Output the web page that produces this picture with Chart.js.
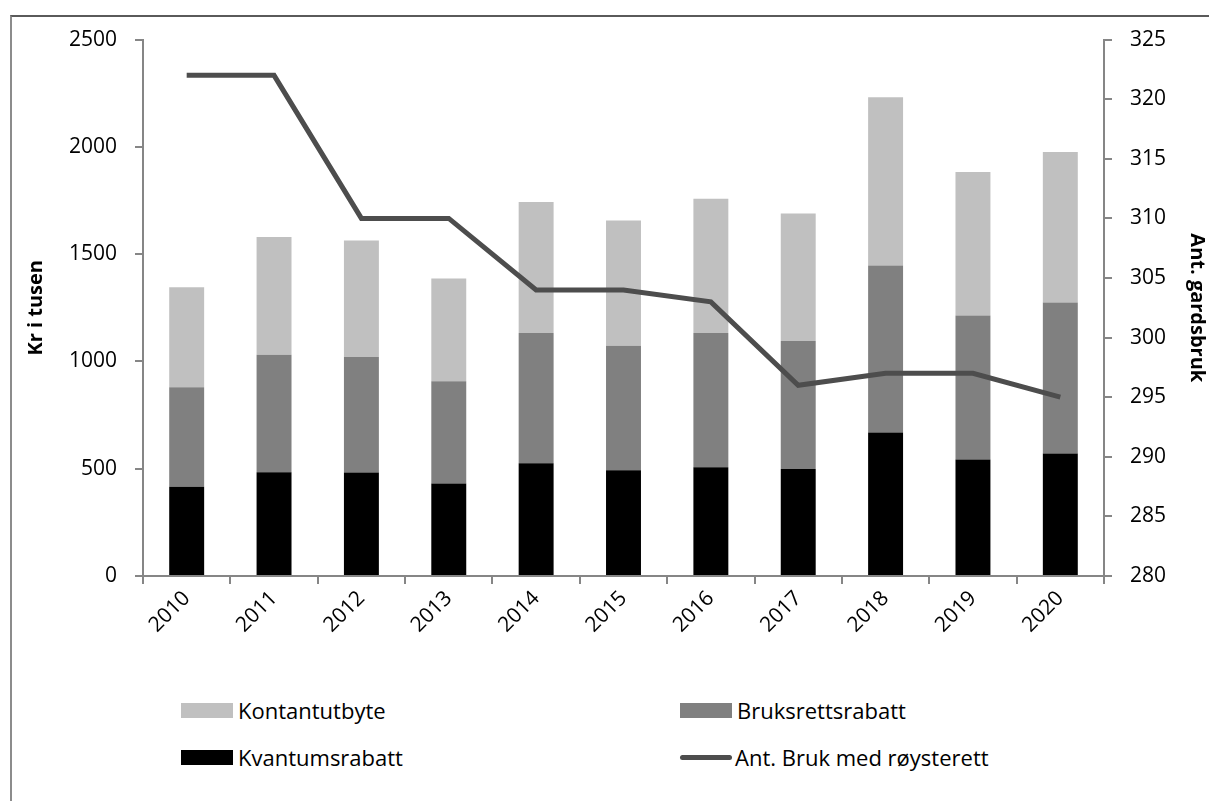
<!DOCTYPE html>
<html>
<head>
<meta charset="utf-8">
<script src="https://cdn.jsdelivr.net/npm/chart.js@4"></script>
<style>
  body { margin: 0; background: #fff; font-family: "Open Sans", sans-serif; }
  #frame {
    position: absolute; left: 10px; top: 15px; width: 1199px; height: 786px;
    border-top: 2px solid #5a5a5a; border-left: 2px solid #8c8c8c; box-sizing: border-box;
  }
  #wrap { position: absolute; left: 10px; top: 9px; width: 1199px; height: 656px; }
  #legend { position: absolute; left: 0; top: 0; }
  .item { position: absolute; display: flex; align-items: center; font-size: 22px; color: #000; white-space: nowrap; }
  .sw { width: 52px; height: 15px; margin-right: 5px; }
  .ln { width: 52px; height: 5px; border-radius: 3px; margin-right: 3px; }
</style>
</head>
<body>
<div id="frame"></div>
<div id="wrap"><canvas id="Chart"></canvas></div>
<div id="legend"></div>
<script>
var years = ['2010','2011','2012','2013','2014','2015','2016','2017','2018','2019','2020'];
var kvantum = [416, 484, 482, 431, 525, 493, 507, 499, 669, 543, 571];
var bruksrett = [464, 547, 539, 477, 608, 580, 626, 596, 778, 671, 704];
var kontant = [466, 549, 543, 479, 610, 584, 625, 595, 784, 669, 701];
var bruk = [322, 322, 310, 310, 304, 304, 303, 296, 297, 297, 295];

var tickFont = { family: 'Open Sans', size: 21 };
var axisGrey = '#868686';

function plain(v) { return String(v); }

var Data = {
    labels: years,
    datasets: [{
        type: 'line',
        label: 'Ant. Bruk med røysterett',
        data: bruk,
        borderColor: '#4d4d4d',
        backgroundColor: '#4d4d4d',
        borderWidth: 5,
        pointRadius: 0,
        yAxisID: 'y1',
        order: 0
    }, {
        type: 'bar',
        label: 'Kvantumsrabatt',
        data: kvantum,
        backgroundColor: '#000000',
        yAxisID: 'y',
        stack: 's',
        order: 1
    }, {
        type: 'bar',
        label: 'Bruksrettsrabatt',
        data: bruksrett,
        backgroundColor: '#808080',
        yAxisID: 'y',
        stack: 's',
        order: 1
    }, {
        type: 'bar',
        label: 'Kontantutbyte',
        data: kontant,
        backgroundColor: '#c0c0c0',
        yAxisID: 'y',
        stack: 's',
        order: 1
    }]
};

var chart = new Chart(document.getElementById('Chart').getContext('2d'), {
    data: Data,
    options: {
        responsive: true,
        maintainAspectRatio: false,
        animation: false,
        categoryPercentage: 0.8,
        barPercentage: 0.5,
        layout: { padding: 0 },
        plugins: { legend: { display: false }, tooltip: { enabled: false } },
        scales: {
            x: {
                stacked: true,
                grid: { offset: true, drawOnChartArea: false, drawTicks: true, tickLength: 8, color: axisGrey, lineWidth: 2 },
                border: { color: axisGrey, width: 2 },
                ticks: { color: '#000', font: tickFont, minRotation: 45, maxRotation: 45, padding: 2 },
                afterFit: function(s) { s.height = 89; }
            },
            y: {
                stacked: true,
                position: 'left',
                min: 0, max: 2500,
                grid: { drawOnChartArea: false, tickLength: 8, color: axisGrey, lineWidth: 2 },
                border: { color: axisGrey, width: 2 },
                ticks: { stepSize: 500, color: '#000', font: tickFont, padding: 18, callback: plain },
                title: { display: true, text: 'Kr i tusen', color: '#000', font: { family: 'Open Sans', size: 20, weight: 'bold' }, padding: { top: 14, bottom: 0 } },
                afterFit: function(s) { s.width = 133; }
            },
            y1: {
                stacked: false,
                position: 'right',
                min: 280, max: 325,
                grid: { drawOnChartArea: false, tickLength: 8, color: axisGrey, lineWidth: 2 },
                border: { color: axisGrey, width: 2 },
                ticks: { stepSize: 5, color: '#000', font: tickFont, padding: 18, callback: plain },
                title: { display: true, text: 'Ant. gardsbruk', color: '#000', font: { family: 'Open Sans', size: 20, weight: 'bold' }, padding: { top: 0, bottom: 0 } },
                afterFit: function(s) { s.width = 105; }
            }
        }
    }
});

// legend in two columns, like the original
var legendOrder = [
    { ds: 3, left: 181, top: 695 },
    { ds: 2, left: 680, top: 695 },
    { ds: 1, left: 181, top: 742 },
    { ds: 0, left: 680, top: 742 }
];
var leg = document.getElementById('legend');
legendOrder.forEach(function(it) {
    var d = chart.data.datasets[it.ds];
    var el = document.createElement('div');
    el.className = 'item';
    el.style.left = it.left + 'px';
    el.style.top = it.top + 'px';
    var sw = document.createElement('span');
    sw.className = d.type === 'line' ? 'ln' : 'sw';
    sw.style.background = d.type === 'line' ? d.borderColor : d.backgroundColor;
    var tx = document.createElement('span');
    tx.textContent = d.label;
    el.appendChild(sw);
    el.appendChild(tx);
    leg.appendChild(el);
});
</script>
</body>
</html>
